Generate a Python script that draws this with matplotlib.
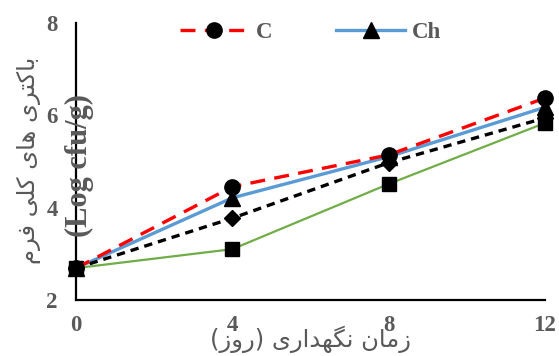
import matplotlib
matplotlib.use('Agg')
import matplotlib.pyplot as plt

# storage days and log counts
days = [0, 4, 8, 12]
c_vals = [2.69, 4.45, 5.14, 6.37]
ch_vals = [2.69, 4.21, 5.10, 6.17]
s3_vals = [2.69, 3.77, 4.97, 5.94]
s4_vals = [2.69, 3.10, 4.51, 5.83]
x_ticks = [0, 4, 8, 12]
y_ticks = [2, 4, 6, 8]
legend_labels = ['C', 'Ch']

# Persian labels, written in display order with Arabic presentation forms
# (matplotlib does no shaping / bidi on its own)
x_label = ('(\uFEAF\uFEED\uFEAD) '
           '\uFBFC\uFEAD\uFE8D\uFEAA\uFEEC\uFB95\uFEE7 '
           '\uFEE5\uFE8E\uFEE3\uFEAF')          # زمان نگهداری (روز)
y_label = ('\uFEE1\uFEAE\uFED3 \uFBFD\uFEE0\uFB90 '
           '\uFBFC\uFE8E\uFEEB '
           '\uFBFC\uFEAE\uFE98\uFB90\uFE8E\uFE91')  # باکتری های کلی فرم
y_unit = '(Log cfu/g)'

TEXT = '#595959'
SERIF = ['Liberation Serif', 'DejaVu Serif']

W, H = 559, 356
fig = plt.figure(figsize=(W / 100, H / 100), dpi=100)
fig.patch.set_facecolor('white')
ax = fig.add_axes([76 / W, 56 / H, 469 / W, 277.3 / H])

mk = dict(mfc='black', mec='black', clip_on=False)
l1, = ax.plot(days, c_vals, color='#FF0000', lw=2.4, ls=(0, (4.5, 2.8)),
              marker='o', ms=11, label=legend_labels[0], zorder=4, **mk)
l2, = ax.plot(days, ch_vals, color='#5B9BD5', lw=2.4,
              marker='^', ms=11, label=legend_labels[1], zorder=3, **mk)
ax.plot(days, s3_vals, color='black', lw=2.4, ls=(0, (2.5, 1.8)),
        marker='D', ms=8.5, zorder=3, **mk)
ax.plot(days, s4_vals, color='#70AD47', lw=1.6,
        marker='s', ms=10.5, zorder=3, **mk)

ax.set_xlim(0, 12)
ax.set_ylim(2, 8)
ax.set_xticks(x_ticks)
ax.set_yticks(y_ticks)
for s in ('top', 'right'):
    ax.spines[s].set_visible(False)
for s in ('left', 'bottom'):
    ax.spines[s].set_color('black')
    ax.spines[s].set_linewidth(1.6)
ax.tick_params(axis='both', length=0, colors=TEXT, labelsize=16.5)
ax.tick_params(axis='y', pad=13)
ax.tick_params(axis='x', pad=11)
for t in ax.get_xticklabels() + ax.get_yticklabels():
    t.set_family(SERIF)
    t.set_fontweight('bold')

ax.legend(handles=[l1, l2], loc='upper center', bbox_to_anchor=(0.5, 1.02),
          ncol=2, frameon=False, borderaxespad=0, borderpad=0.2,
          handlelength=3.0, handletextpad=0.3, columnspacing=2.8,
          prop=dict(family=SERIF, weight='bold', size=16.5),
          labelcolor=TEXT)

fig.text(29 / W, 1 - 160 / H, y_label, rotation=90, ha='center', va='center',
         family='DejaVu Sans', size=17.5, color=TEXT)
fig.text(79 / W, 1 - 165 / H, y_unit, rotation=90, ha='center', va='center',
         family=SERIF, weight='bold', size=22, color=TEXT)
fig.text(311 / W, 1 - 339 / H, x_label, ha='center', va='center',
         family='DejaVu Sans', size=17.5, color=TEXT)

fig.savefig('out.png', dpi=100, facecolor='white')
